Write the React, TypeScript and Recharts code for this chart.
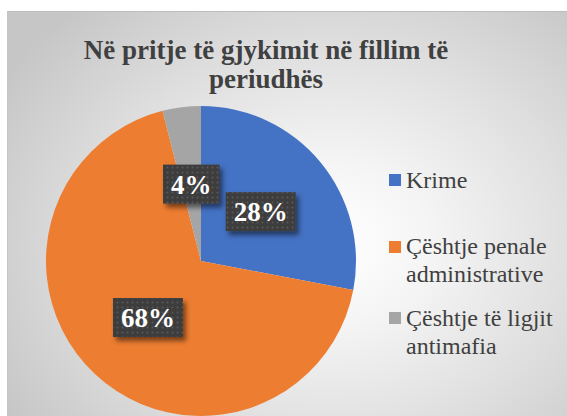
import React from 'react';
import { PieChart, Pie, Cell, Legend } from 'recharts';

const titleLines = ['Në pritje të gjykimit në fillim të', 'periudhës'];
const categories = ['Krime', 'Çështje penale administrative', 'Çështje të ligjit antimafia'];
const legendLines = [['Krime'], ['Çështje penale', 'administrative'], ['Çështje të ligjit', 'antimafia']];
const values = [28, 68, 4];
const colors = ['#4472C4', '#ED7D31', '#A5A5A5'];

const data = categories.map((name, i) => ({ name, value: values[i] }));

const RADIAN = Math.PI / 180;
const SERIF = '"Liberation Serif", serif';

const renderLabel = (props: any) => {
  const { cx, cy, midAngle, outerRadius, percent, index } = props;
  const r = outerRadius * 0.5;
  const x = cx + r * Math.cos(-midAngle * RADIAN);
  const y = cy + r * Math.sin(-midAngle * RADIAN);
  const text = `${Math.round(percent * 100)}%`;
  const fs = 27;
  let w = 0;
  for (const ch of text) w += ch === '%' ? fs : fs * 0.5;
  const bw = w + 16;
  const bh = 39;
  const pid = `dots-${index}`;
  const fid = `shadow-${index}`;
  return (
    <g>
      <defs>
        <pattern id={pid} width="5" height="5" patternUnits="userSpaceOnUse">
          <rect width="5" height="5" fill="#3d3d3d" />
          <circle cx="2.5" cy="2.5" r="0.9" fill="#5a5a5a" />
        </pattern>
        <filter id={fid} x="-30%" y="-30%" width="160%" height="170%">
          <feDropShadow dx="3" dy="4" stdDeviation="2.5" floodColor="#000" floodOpacity="0.5" />
        </filter>
      </defs>
      <rect x={x - bw / 2} y={y - bh / 2} width={bw} height={bh} fill={`url(#${pid})`} filter={`url(#${fid})`} />
      <text
        x={x}
        y={y + 9.5}
        textAnchor="middle"
        fill="#ffffff"
        fontFamily={SERIF}
        fontWeight="bold"
        fontSize={fs}
      >
        {text}
      </text>
    </g>
  );
};

const legendTops = [5.6, 72.2, 143.6];

const renderLegend = (props: any) => {
  const { payload } = props;
  return (
    <div style={{ position: 'relative', width: 178, height: 220 }}>
      {(payload || []).map((entry: any, i: number) => (
        <div key={i} style={{ position: 'absolute', left: 0, top: legendTops[i] }}>
          <div
            style={{
              position: 'absolute',
              left: 0,
              top: 8.5,
              width: 12,
              height: 12,
              background: entry.color,
            }}
          />
          <div
            style={{
              position: 'absolute',
              left: 17,
              top: 0,
              fontFamily: SERIF,
              fontSize: 24,
              lineHeight: '28px',
              color: '#404040',
              whiteSpace: 'nowrap',
            }}
          >
            {legendLines[i].map((l, j) => (
              <div key={j}>{l}</div>
            ))}
          </div>
        </div>
      ))}
    </div>
  );
};

export default function App() {
  return (
    <div style={{ position: 'absolute', left: 0, top: 0, width: 567, height: 416, overflow: 'hidden', background: '#ffffff' }}>
      <div
        style={{
          position: 'absolute',
          left: 7,
          top: 11,
          width: 567,
          height: 420,
          borderTop: '1px solid #bdbdbd',
          borderLeft: '1px solid #c4c4c4',
          background: 'radial-gradient(ellipse 68% 75% at 57% 55%, #ffffff 0%, #f5f5f5 25%, #dfdfdf 62%, #c6c6c6 100%)',
        }}
      />
      <div style={{ position: 'absolute', left: 0, top: 0 }}>
        <PieChart width={567} height={416} margin={{ top: 0, right: 0, bottom: 0, left: 0 }}>
          <Pie
            data={data}
            dataKey="value"
            nameKey="name"
            cx={201}
            cy={261}
            outerRadius={155}
            startAngle={90}
            endAngle={-270}
            stroke="none"
            label={renderLabel}
            labelLine={false}
            isAnimationActive={false}
          >
            {data.map((d, i) => (
              <Cell key={d.name} fill={colors[i]} />
            ))}
          </Pie>
          <Legend
            layout="vertical"
            align="right"
            verticalAlign="middle"
            content={renderLegend}
            wrapperStyle={{ position: 'absolute', left: 389, top: 160, width: 178, height: 220 }}
          />
        </PieChart>
      </div>
      <div
        style={{
          position: 'absolute',
          left: 0,
          top: 35.5,
          width: 532,
          textAlign: 'center',
          fontFamily: SERIF,
          fontWeight: 'bold',
          fontSize: 27,
          lineHeight: '29px',
          color: '#404040',
          whiteSpace: 'nowrap',
        }}
      >
        {titleLines.map((l, i) => (
          <div key={i}>{l}</div>
        ))}
      </div>
    </div>
  );
}
